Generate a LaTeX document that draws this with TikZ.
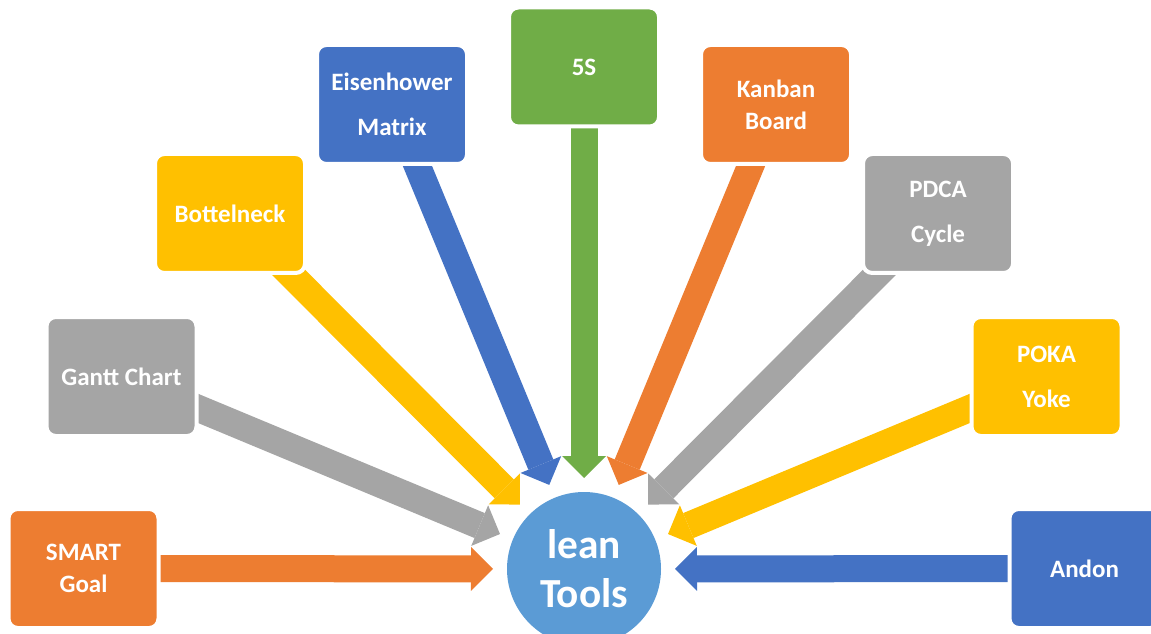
\documentclass[tikz,border=0pt]{standalone}
\usepackage{fontspec}
\setmainfont{Carlito}
\usepackage{tikz}
\usetikzlibrary{arrows.meta,backgrounds}

\definecolor{leanorange}{RGB}{237,125,49}
\definecolor{leangray}{RGB}{165,165,165}
\definecolor{leangold}{RGB}{255,192,0}
\definecolor{leanblue}{RGB}{68,114,196}
\definecolor{leangreen}{RGB}{112,173,71}
\definecolor{leansky}{RGB}{91,155,213}

\tikzset{
	toolbox/.style={draw=white, line width=3pt, rounded corners=7pt, minimum width=112.5pt, minimum height=89.25pt, inner sep=0pt, align=center, text=white, font=\bfseries\fontsize{18.75}{24}\selectfont},
	fatarrow/.style={line width=20.25pt, -{Triangle[width=33pt,length=16.5pt,line width=0pt]}, preaction={draw=white, line width=23.25pt, -{Triangle[width=39pt,length=19.5pt,line width=0pt]}}},
}

\begin{document}
\begin{tikzpicture}[x=0.75pt,y=0.75pt,yscale=-1,xscale=1]
		
		\useasboundingbox (0,0) rectangle (1151,634);
		\clip (0,0) rectangle (1151,634);
		
		%Shape: Circle [id:lean] 
		\node (lean) at (584,569) [circle, fill=leansky, minimum size=115.5pt, inner sep=0pt, outer sep=10.5pt, align=center, text=white, font=\bfseries\fontsize{31}{36.75}\selectfont] {lean\\Tools};
		
		% Text Node
		\node (smart) at (83.5,568.5) [toolbox, fill=leanorange] {SMART\\Goal};
		% Text Node
		\node (gantt) at (121.5,376.5) [toolbox, fill=leangray] {Gantt Chart};
		% Text Node
		\node (bottle) at (230,213.5) [toolbox, fill=leangold] {Bottelneck};
		% Text Node
		\node (eisen) at (392,104.5) [toolbox, fill=leanblue] {Eisenhower\\[9.75pt]Matrix};
		% Text Node
		\node (fives) at (584,67) [toolbox, fill=leangreen] {5S};
		% Text Node
		\node (kanban) at (776,104.5) [toolbox, fill=leanorange] {Kanban\\Board};
		% Text Node
		\node (pdca) at (938,213.5) [toolbox, fill=leangray] {PDCA\\[9.75pt]Cycle};
		% Text Node
		\node (poka) at (1046.5,376.5) [toolbox, fill=leangold] {POKA\\[9.75pt]Yoke};
		% Text Node
		\node (andon) at (1084.5,568.5) [toolbox, fill=leanblue] {Andon};
		
		\begin{scope}[on background layer]
		%Right Arrow [id:fives] 
		\draw [fatarrow, leangreen] (fives.center) -- (lean);
		%Right Arrow [id:bottle] 
		\draw [fatarrow, leangold] (bottle.center) -- (lean);
		%Right Arrow [id:pdca] 
		\draw [fatarrow, leangray] (pdca.center) -- (lean);
		%Right Arrow [id:eisen] 
		\draw [fatarrow, leanblue] (eisen.center) -- (lean);
		%Right Arrow [id:kanban] 
		\draw [fatarrow, leanorange] (kanban.center) -- (lean);
		%Right Arrow [id:gantt] 
		\draw [fatarrow, leangray] (gantt.center) -- (lean);
		%Right Arrow [id:poka] 
		\draw [fatarrow, leangold] (poka.center) -- (lean);
		%Right Arrow [id:smart] 
		\draw [fatarrow, leanorange] (smart.center) -- (lean);
		%Right Arrow [id:andon] 
		\draw [fatarrow, leanblue] (andon.center) -- (lean);
		\end{scope}
		
\end{tikzpicture}
\end{document}
